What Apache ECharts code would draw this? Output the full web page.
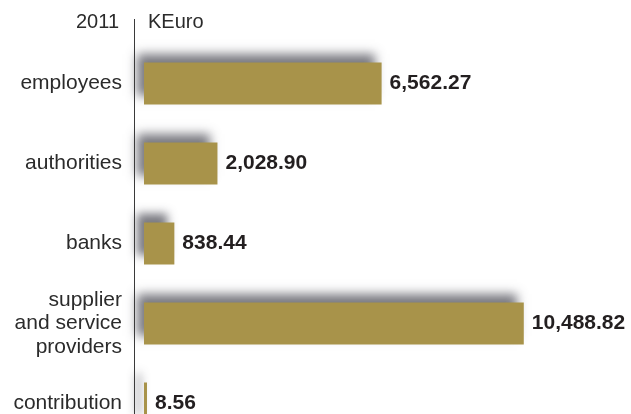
<!DOCTYPE html>
<html>
<head>
<meta charset="utf-8">
<title>2011 KEuro</title>
<script src="https://cdn.jsdelivr.net/npm/echarts@6/dist/echarts.min.js"></script>
<style>
  html, body { margin: 0; padding: 0; background: #ffffff; overflow: hidden; }
  /* the last row runs past the lower edge of the visible page */
  #chart { width: 631px; height: 444px; }
</style>
</head>
<body>
<div id="chart"></div>
<script>
// Distribution of value added, 2011, in thousands of euro
const categories = ['employees', 'authorities', 'banks', 'supplier\nand service\nproviders', 'contribution'];
const values = [6562.27, 2028.90, 838.44, 10488.82, 8.56];
const yearLabel = '2011';
const unitLabel = 'KEuro';

const FONT = '"Liberation Sans", Arial, Helvetica, sans-serif';
const BAR_COLOR = '#a8934a';

const fmt = v => v.toLocaleString('en-US', { minimumFractionDigits: 2, maximumFractionDigits: 2 });

const chart = echarts.init(document.getElementById('chart'), null, { renderer: 'canvas' });

chart.setOption({
  animation: false,
  backgroundColor: '#ffffff',
  grid: { left: 144, right: 0, top: 43.5, bottom: 0.5, containLabel: false, outerBoundsMode: 'none' },
  xAxis: {
    type: 'value',
    min: 0,
    max: 13450,
    show: false
  },
  yAxis: {
    type: 'category',
    inverse: true,
    data: categories,
    axisLine: { show: false },
    axisTick: { show: false },
    splitLine: { show: false },
    axisLabel: {
      margin: 22,
      color: '#2b2b2b',
      fontFamily: FONT,
      fontSize: 21,
      lineHeight: 23.5,
      align: 'right'
    }
  },
  series: [{
    type: 'bar',
    data: values,
    barWidth: 42,
    barMinHeight: 3,
    itemStyle: {
      color: BAR_COLOR,
      shadowColor: 'rgba(70, 70, 80, 0.72)',
      shadowBlur: 10,
      shadowOffsetX: -7,
      shadowOffsetY: -9
    },
    label: {
      show: true,
      position: 'right',
      distance: 8,
      color: '#231f20',
      fontFamily: FONT,
      fontWeight: 'bold',
      fontSize: 21,
      formatter: p => fmt(p.value)
    }
  }],
  graphic: [
    {
      type: 'line',
      shape: { x1: 134.5, y1: 19, x2: 134.5, y2: 444 },
      style: { stroke: '#3a3a3a', lineWidth: 1 },
      z: 10
    },
    {
      type: 'text',
      x: 119,
      y: 22,
      style: {
        text: yearLabel,
        fill: '#2b2b2b',
        font: '20px ' + FONT,
        align: 'right',
        verticalAlign: 'middle'
      }
    },
    {
      type: 'text',
      x: 148,
      y: 22,
      style: {
        text: unitLabel,
        fill: '#2b2b2b',
        font: '20px ' + FONT,
        align: 'left',
        verticalAlign: 'middle'
      }
    }
  ]
});
</script>
</body>
</html>
